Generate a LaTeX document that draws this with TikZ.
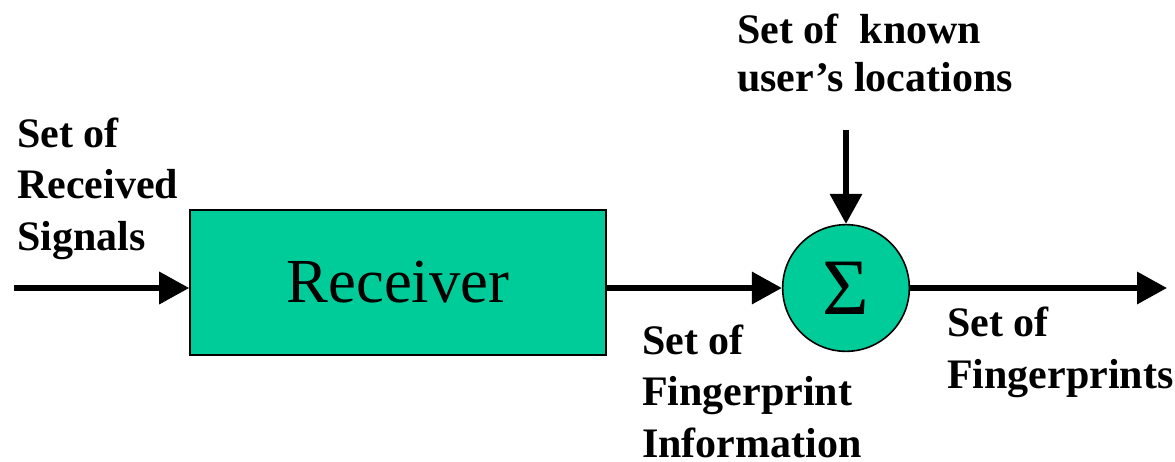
\documentclass[tikz,border=0pt]{standalone}
\usepackage{fontspec}
\setmainfont{Liberation Serif}
\usetikzlibrary{arrows.meta}
\definecolor{blockgreen}{HTML}{00CC99}

\begin{document}
\begin{tikzpicture}[x=0.75pt,y=-0.75pt,
	flow/.style={line width=4.2pt, -{Triangle[length=22.5pt,width=23.5pt]}},
	sigtext/.style={inner sep=0pt, align=left, anchor=base west, font=\fontsize{31.5}{38.5}\selectfont\bfseries}] %Início do diagrama
	\useasboundingbox (0,0) rectangle (1175,461); %Área do desenho
		%Blocos
	\node[draw, line width=1.2pt, fill=blockgreen, minimum width=312pt, minimum height=108.75pt, font=\fontsize{47}{50}\selectfont] (receiver) at (398,282.5) {Receiver}; %Receptor
	\node[draw, circle, line width=1.2pt, fill=blockgreen, minimum size=95pt, inner sep=0pt, font=\fontsize{60}{60}\selectfont] (sum) at (846,288) {Σ}; %Somador
		%Extremidades livres
	\coordinate (in) at (14,288);
	\coordinate (out) at (1167,288);
	\coordinate (loc) at (846,130);
		%Setas
	\draw[flow] (in) -- (receiver.west |- in); %Entrada
	\draw[flow] (receiver.east |- sum.west) -- (sum.west);
	\draw[flow] (loc) -- (sum.north);
	\draw[flow] (sum.east) -- (out); %Saída
		%Rótulos (âncora na última linha)
	\node[sigtext] (rxsig) at (17,250) {Set of\\Received\\Signals};
	\node[sigtext, font=\fontsize{31.5}{36}\selectfont\bfseries] (known) at (737,91) {Set of\ \ known\\user’s locations};
	\node[sigtext] (fpinfo) at (642,457) {Set of\\Fingerprint\\Information};
	\node[sigtext] (fps) at (947,388) {Set of\\Fingerprints};
\end{tikzpicture}
\end{document}
